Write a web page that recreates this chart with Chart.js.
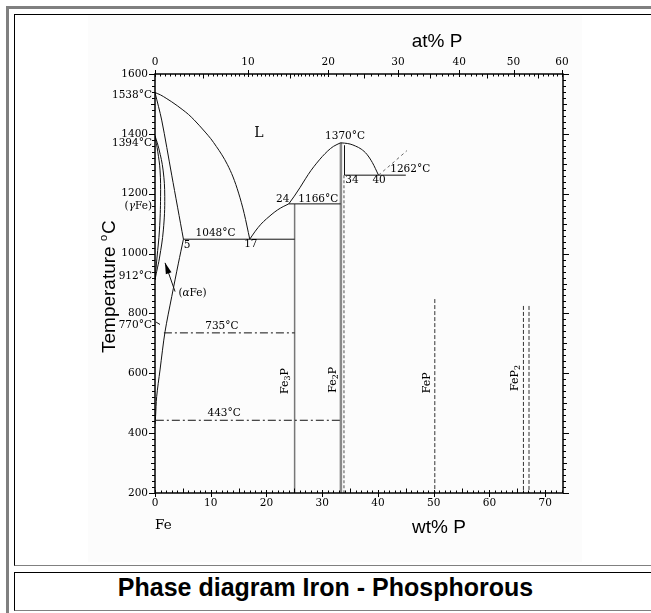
<!DOCTYPE html>
<html><head><meta charset="utf-8">
<script src="https://cdn.jsdelivr.net/npm/chart.js@4.4.1/dist/chart.umd.min.js"></script>
<style>
html,body{margin:0;padding:0;background:#fff;width:651px;height:613px;overflow:hidden;}
#outer{position:absolute;left:6px;top:6px;width:720px;height:720px;border-left:3px solid #808080;border-top:3px solid #808080;}
#cell1{position:absolute;left:14px;top:14px;width:720px;height:550px;border-left:1px solid #000;border-top:1px solid #000;border-bottom:1px solid #808080;}
#tint{position:absolute;left:88px;top:15px;width:494px;height:547px;background:#fcfcfc;}
#cell2{position:absolute;left:14px;top:572px;width:720px;height:37px;border-left:1px solid #000;border-top:1px solid #000;border-bottom:1px solid #808080;}
#title{position:absolute;left:0;top:573px;width:651px;height:37px;line-height:37px;text-align:center;font:bold 25px "Liberation Sans",Arial,sans-serif;color:#000;z-index:3;}
#c{position:absolute;left:0;top:0;z-index:2;}
</style></head>
<body>
<div id="outer"></div><div id="cell1"></div><div id="tint"></div><div id="cell2"></div>
<div id="title">Phase diagram Iron - Phosphorous</div>
<canvas id="c" width="651" height="565"></canvas>
<script>
// ---- axis ticks ----
const yTicks = [200,400,600,800,1000,1200,1400,1600];
const xTicks = [0,10,20,30,40,50,60,70];          // bottom axis labels
const topTicksWt = [0,10,20,30,40,50,60];         // top axis labels
const M_FE = 55.85, M_P = 30.97;                   // atomic masses for the secondary axis mapping

// ---- phase boundaries: [at% P (bottom scale), temperature °C] ----
const liqFeSide     = [[0,1538],[1,1530],[2,1519],[3,1507],[4,1494],[5,1480],[6,1465],[7,1447],[8,1427],[9,1406],[10,1384],[11,1358],[12,1330],[13,1297],[14,1256],[15,1202],[16,1134],[17,1048]];
const liqEutToPeri  = [[17,1048],[18,1075],[19,1098],[20,1116],[21,1132],[22,1146],[23,1157],[24,1166]];
const liqPeriToFe2P = [[24,1166],[25,1192],[26,1220],[27,1250],[28,1278],[29,1302],[30,1324],[31,1343],[32,1358],[33.3,1370]];
const liqFe2PToEut  = [[33.3,1370],[34,1369],[35,1366],[36,1359],[37,1349],[38,1332],[39,1304],[40.1,1262]];
const liqBeyond     = [[40.1,1262],[42.5,1300],[45.2,1344]];
const solidusAlpha  = [[0,1538],[1.2,1446],[3,1262],[5.1,1048]];
const solvusAlpha   = [[5.1,1048],[4.2,968],[3.0,856],[1.8,739],[0.9,611],[0.3,522],[0.1,455],[0,430]];
const gammaOuter    = [[0,1394],[0.7,1350],[1.45,1279],[1.75,1190],[1.5,1079],[0.8,985],[0.3,940],[0,912]];
const gammaInner    = [[0,1394],[0.5,1340],[0.9,1279],[1.0,1190],[0.8,1079],[0.35,985],[0,912]];
const iso1048 = [[5.1,1048],[25.05,1048]];
const iso1166 = [[24,1166],[33.3,1166]];
const iso1262 = [[34,1262],[45,1262]];
const bound34 = [[34,1262],[34,1362]];
const iso735  = [[1.6,735],[25.05,735]];
const iso443  = [[0.15,443],[33.3,443]];
const curie770 = [[0.2,771],[0.9,763]];
const fe3PLine = [[25.05,1166],[25.05,200]];
const fe2PLine = [[33.35,1370],[33.35,200]];
const fe2PDash = [[33.9,1262],[33.9,200]];
const fePLine  = [[50.2,848],[50.2,200]];
const feP2A    = [[66.1,825],[66.1,200]];
const feP2B    = [[67.1,825],[67.1,200]];
const arrowLine = [[3.6,873],[1.8,969]];

const atFromWt = w => 100*(w/M_P)/((w/M_P)+((100-w)/M_FE));

function ds(points, o){
  return Object.assign({data:points.map(([x,y])=>({x,y})),showLine:true,pointRadius:0,borderColor:'#111',borderWidth:1,fill:false,tension:0}, o||{});
}
const mono = {cubicInterpolationMode:'monotone'};
const datasets = [
  ds(liqFeSide, mono), ds(liqEutToPeri, mono), ds(liqPeriToFe2P, mono), ds(liqFe2PToEut, mono),
  ds(liqBeyond,{borderColor:'#666',borderDash:[3,3]}),
  ds(solidusAlpha,{tension:0.3}), ds(solvusAlpha,{tension:0.3}),
  ds(gammaOuter,{tension:0.4}), ds(gammaInner,{tension:0.4}),
  ds(iso1048), ds(iso1166), ds(iso1262), ds(bound34),
  ds(iso735,{borderDash:[8,3,2,3]}), ds(iso443,{borderDash:[8,3,2,3]}),
  ds(curie770),
  ds(fe3PLine,{borderColor:'#777',borderWidth:1.5}),
  ds(fe2PLine,{borderColor:'#888',borderWidth:2.5}),
  ds(fe2PDash,{borderColor:'#888',borderWidth:1.5,borderDash:[3,2]}),
  ds(fePLine,{borderColor:'#333',borderDash:[4,2]}),
  ds(feP2A,{borderColor:'#333',borderDash:[4,2]}),
  ds(feP2B,{borderColor:'#333',borderDash:[4,2]}),
  ds(arrowLine)
];

const SERIF = '"DejaVu Serif", serif';
const SANS = '"Liberation Sans", Arial, sans-serif';
const LBL = 10.5;
const notes = [
  {t:'L', x:18.66, y:1400, size:14},
  {t:'1370°C', x:34.1, y:1393},
  {t:'1262°C', x:42.2, y:1283, align:'left'},
  {t:'34', x:35.35, y:1246},
  {t:'40', x:40.2, y:1246},
  {t:'1166°C', x:29.3, y:1182},
  {t:'24', x:22.9, y:1182},
  {t:'1048°C', x:10.86, y:1067},
  {t:'5', x:5.74, y:1029},
  {t:'17', x:17.2, y:1030},
  {t:'735°C', x:12.0, y:758},
  {t:'443°C', x:12.4, y:467}
];
const leftNotes = [
  {parts:[{t:'1538°C'}], y:1530},
  {parts:[{t:'1394°C'}], y:1369},
  {parts:[{t:'('},{t:'γ',it:true},{t:'Fe)'}], y:1157},
  {parts:[{t:'912°C'}], y:925},
  {parts:[{t:'770°C'}], y:761}
];
const compounds = [
  {parts:[{t:'Fe'},{t:'3',sub:true},{t:'P'}], x:23.3, y:574},
  {parts:[{t:'Fe'},{t:'2',sub:true},{t:'P'}], x:31.9, y:578},
  {parts:[{t:'FeP'}], x:48.8, y:568},
  {parts:[{t:'FeP'},{t:'2',sub:true}], x:64.6, y:584}
];

function partFont(p, size){
  const s = p.sub ? size*0.72 : size;
  return (p.it?'italic ':'') + s + 'px ' + SERIF;
}
function drawRich(ctx, parts, x, y, align, size){
  let w = 0;
  parts.forEach(p=>{ctx.font=partFont(p,size); p.w=ctx.measureText(p.t).width; w+=p.w;});
  let cx = align==='right' ? x-w : align==='left' ? x : x-w/2;
  ctx.textAlign='left'; ctx.textBaseline='middle';
  parts.forEach(p=>{ctx.font=partFont(p,size); ctx.fillText(p.t, cx, y + (p.sub? size*0.3:0)); cx+=p.w;});
}

const decor = {
  id:'decor',
  afterDatasetsDraw(chart){
    const {ctx, chartArea:a, scales:{x,y}} = chart;
    ctx.save();
    // frame
    ctx.strokeStyle='#000'; ctx.lineWidth=1.5;
    ctx.strokeRect(a.left, a.top, a.right-a.left, a.bottom-a.top);
    ctx.lineWidth=1; ctx.beginPath();
    // bottom ticks (inward)
    for(let v=0; v<=73; v++){
      const px=Math.round(x.getPixelForValue(v))+0.5;
      let up=2.5, dn=0;
      if(v%10===0){up=3;dn=4;} else if(v%5===0){up=4.5;}
      ctx.moveTo(px,a.bottom+dn); ctx.lineTo(px,a.bottom-up);
    }
    // top ticks (inward, wt% mapping)
    for(let w=0; w<=60.001; w+= (w<20?0.5:1)){
      const px=Math.round(x.getPixelForValue(atFromWt(w)))+0.5;
      let dn=2.5, up=0;
      if(Math.abs(w%10)<1e-6){dn=3;up=4;} else if(Math.abs(w%5)<1e-6){dn=4.5;}
      ctx.moveTo(px,a.top-up); ctx.lineTo(px,a.top+dn);
    }
    // left & right ticks (outward)
    for(let t=200;t<=1600;t+=20){
      const py=Math.round(y.getPixelForValue(t))+0.5;
      let out=3; if(t%200===0) out=6; else if(t%100===0) out=4;
      ctx.moveTo(a.left-out,py); ctx.lineTo(a.left,py);
      ctx.moveTo(a.right,py); ctx.lineTo(a.right+out,py);
    }
    ctx.stroke();

    // arrow head
    const p1 = arrowLine[0], p2 = arrowLine[1];
    const x1=x.getPixelForValue(p1[0]), y1=y.getPixelForValue(p1[1]);
    const x2=x.getPixelForValue(p2[0]), y2=y.getPixelForValue(p2[1]);
    const ang=Math.atan2(y2-y1,x2-x1);
    ctx.fillStyle='#000'; ctx.beginPath();
    ctx.moveTo(x2,y2);
    ctx.lineTo(x2-11*Math.cos(ang)+3*Math.sin(ang), y2-11*Math.sin(ang)-3*Math.cos(ang));
    ctx.lineTo(x2-11*Math.cos(ang)-3*Math.sin(ang), y2-11*Math.sin(ang)+3*Math.cos(ang));
    ctx.closePath(); ctx.fill();

    // notes in the plot
    ctx.fillStyle='#000';
    notes.forEach(n=>{
      drawRich(ctx,[{t:n.t}], x.getPixelForValue(n.x), y.getPixelForValue(n.y), n.align||'center', n.size||LBL);
    });
    drawRich(ctx,[{t:'('},{t:'α',it:true},{t:'Fe)'}], x.getPixelForValue(6.73), y.getPixelForValue(869), 'center', LBL);
    leftNotes.forEach(n=>{
      drawRich(ctx, n.parts, a.left-3, y.getPixelForValue(n.y), 'right', LBL);
    });
    compounds.forEach(c=>{
      ctx.save();
      ctx.translate(x.getPixelForValue(c.x), y.getPixelForValue(c.y));
      ctx.rotate(-Math.PI/2);
      drawRich(ctx, c.parts, 0, 0, 'center', 11);
      ctx.restore();
    });
    // axis titles
    ctx.font='19px '+SANS; ctx.textAlign='center'; ctx.textBaseline='middle';
    ctx.fillText('at% P', 437, 42);
    ctx.fillText('wt% P', 439, 528);
    ctx.font='13.5px '+SERIF; ctx.textAlign='left';
    ctx.fillText('Fe', a.left, 525);
    // Temperature °C (rotated)
    ctx.save();
    ctx.translate(115, 353); ctx.rotate(-Math.PI/2);
    ctx.textBaseline='alphabetic'; ctx.textAlign='left';
    ctx.font='19px '+SANS;
    const tw = ctx.measureText('Temperature ').width;
    ctx.fillText('Temperature ', 0, 0);
    ctx.font='11px '+SANS;
    ctx.fillText('o', tw, -8);
    const ow = ctx.measureText('o').width;
    ctx.font='19px '+SANS;
    ctx.fillText('C', tw+ow+1, 0);
    ctx.restore();
    ctx.restore();
  }
};

const tickFont = {family:'DejaVu Serif', size:10.5};
new Chart(document.getElementById('c'), {
  type:'scatter',
  data:{datasets},
  options:{
    responsive:false, animation:false, devicePixelRatio:1,
    layout:{padding:0},
    plugins:{legend:{display:false}, tooltip:{enabled:false}},
    scales:{
      x:{type:'linear', position:'bottom', min:0, max:73.2,
         grid:{display:false, drawTicks:false}, border:{display:false},
         afterBuildTicks:s=>{s.ticks = xTicks.map(v=>({value:v}));},
         afterFit:s=>{s.height=72;},
         ticks:{font:tickFont, color:'#000', padding:4, autoSkip:false, maxRotation:0,
                callback:(v,i)=>String(xTicks[i])}},
      x2:{type:'linear', position:'top', min:0, max:73.2,
         grid:{display:false, drawTicks:false}, border:{display:false},
         afterBuildTicks:s=>{s.ticks = topTicksWt.map(w=>({value:atFromWt(w)}));},
         afterFit:s=>{s.height=74;},
         ticks:{font:tickFont, color:'#000', padding:5, autoSkip:false, maxRotation:0,
                callback:(v,i)=>String(topTicksWt[i])}},
      y:{type:'linear', position:'left', min:200, max:1600,
         grid:{display:false, drawTicks:false}, border:{display:false},
         afterBuildTicks:s=>{s.ticks = yTicks.map(v=>({value:v}));},
         afterFit:s=>{s.width=155;},
         ticks:{font:tickFont, color:'#000', padding:7, autoSkip:false,
                callback:(v,i)=>String(yTicks[i])}},
      y2:{type:'linear', position:'right', min:200, max:1600,
         grid:{display:false, drawTicks:false}, border:{display:false},
         ticks:{display:false},
         afterFit:s=>{s.width=88;}}
    }
  },
  plugins:[decor]
});
</script>
</body></html>
